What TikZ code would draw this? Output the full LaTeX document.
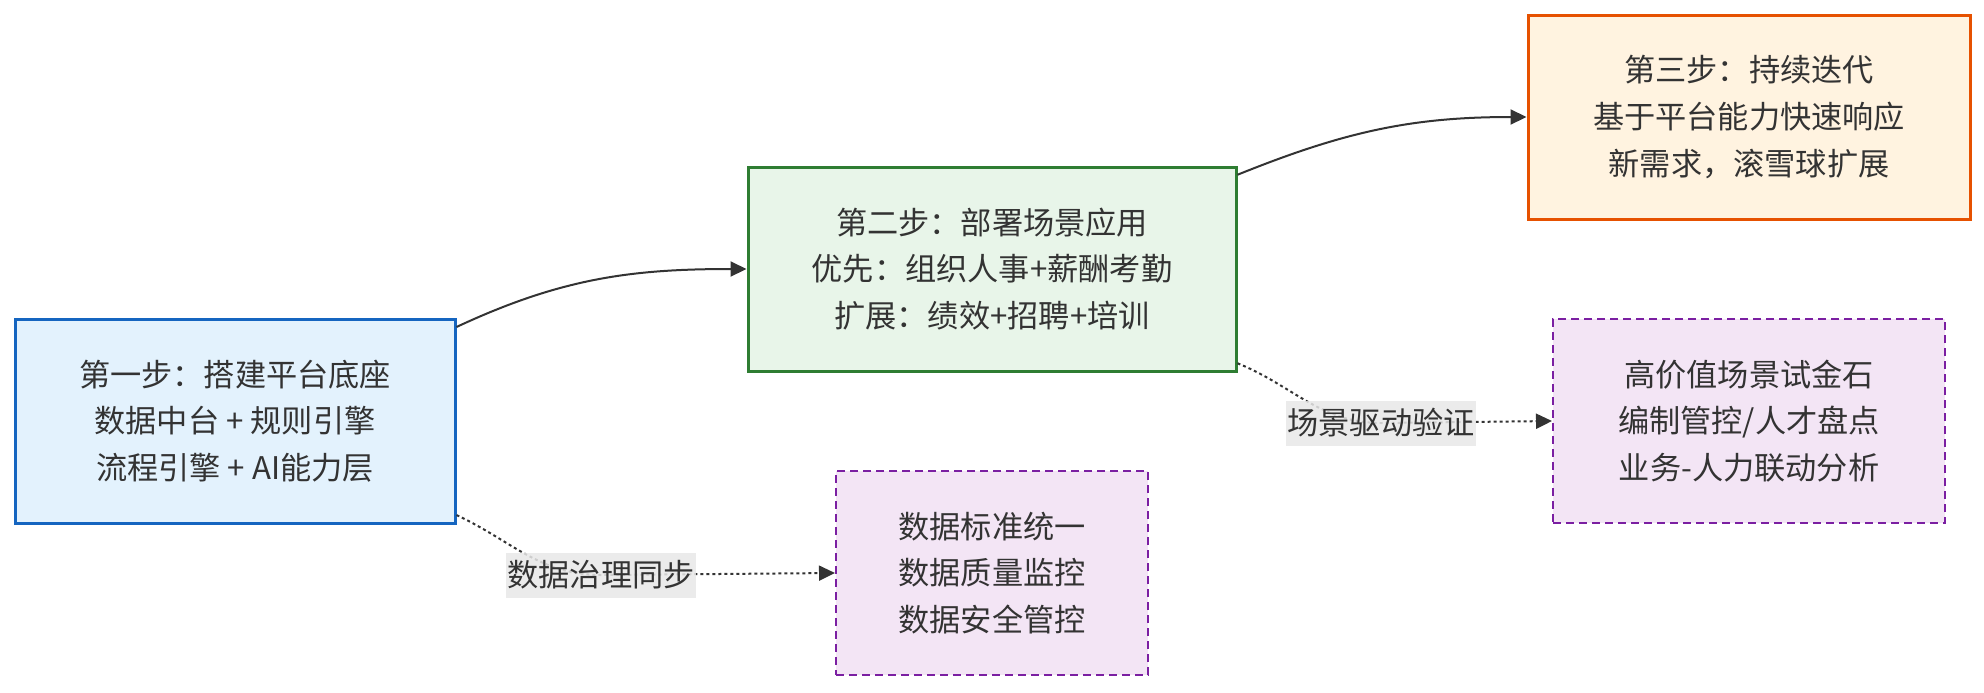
\documentclass[tikz,border=0pt]{standalone}
\usepackage{fontspec}
\newfontfamily\cjk{Noto Sans CJK SC}
\usetikzlibrary{arrows.meta, positioning}

\definecolor{inkgray}{HTML}{333333}
\definecolor{bluefill}{HTML}{E3F2FD}
\definecolor{blueline}{HTML}{1565C0}
\definecolor{greenfill}{HTML}{E8F5E9}
\definecolor{greenline}{HTML}{2E7D32}
\definecolor{orangefill}{HTML}{FFF3E0}
\definecolor{orangeline}{HTML}{E65100}
\definecolor{purplefill}{HTML}{F3E5F5}
\definecolor{purpleline}{HTML}{7B1FA2}
\definecolor{labelgray}{HTML}{E8E8E8}

\begin{document}
\begin{tikzpicture}[
    x=0.5pt, y=-0.5pt,
    box/.style={draw, line width=1.5pt, align=center, text=inkgray, inner sep=0pt,
                minimum height=102pt, font=\cjk\fontsize{15.6pt}{23.4pt}\selectfont},
    note/.style={box, draw=purpleline, fill=purplefill, line width=1pt,
                 dash pattern=on 4pt off 2.5pt},
    lbl/.style={fill=labelgray, fill opacity=0.85, text opacity=1, text=inkgray,
                inner xsep=0.5pt, inner ysep=0pt, minimum height=22.5pt,
                font=\cjk\fontsize{15.6pt}{18pt}\selectfont},
    link/.style={->, line width=1pt, draw=inkgray},
    hint/.style={link, dash pattern=on 1.5pt off 1.5pt},
    >={Triangle[length=8pt, width=7.5pt]}
]
\useasboundingbox (0,0) rectangle (1984,692);

% three steps
\node[box, draw=blueline, fill=bluefill, minimum width=220pt]     (step1) at (235,421)
    {第一步：搭建平台底座\\数据中台 + 规则引擎\\流程引擎 + AI能力层};
\node[box, draw=greenline, fill=greenfill, minimum width=244pt]   (step2) at (992,269)
    {第二步：部署场景应用\\优先：组织人事+薪酬考勤\\扩展：绩效+招聘+培训};
\node[box, draw=orangeline, fill=orangefill, minimum width=221pt] (step3) at (1749,117)
    {第三步：持续迭代\\基于平台能力快速响应\\新需求，滚雪球扩展};

% side notes
\node[note, minimum width=196pt] (scene) at (1749,421)
    {高价值场景试金石\\编制管控/人才盘点\\业务-人力联动分析};
\node[note, minimum width=156pt] (gov)   at (992,573)
    {数据标准统一\\数据质量监控\\数据安全管控};

\coordinate (govmid)   at (601,575);
\coordinate (scenemid) at (1381,423);

\draw[link] (step1.23) to[out=25, in=180] (step2.west);
\draw[link] (step2.21) to[out=22, in=180] (step3.west);
\draw[hint] (step1.-23) to[out=-25, in=180] (govmid)
    node[lbl] (govlbl) {数据治理同步} -- (gov.west);
\draw[hint] (step2.-21) to[out=-22, in=180] (scenemid)
    node[lbl] (scenelbl) {场景驱动验证} -- (scene.west);
\end{tikzpicture}
\end{document}
